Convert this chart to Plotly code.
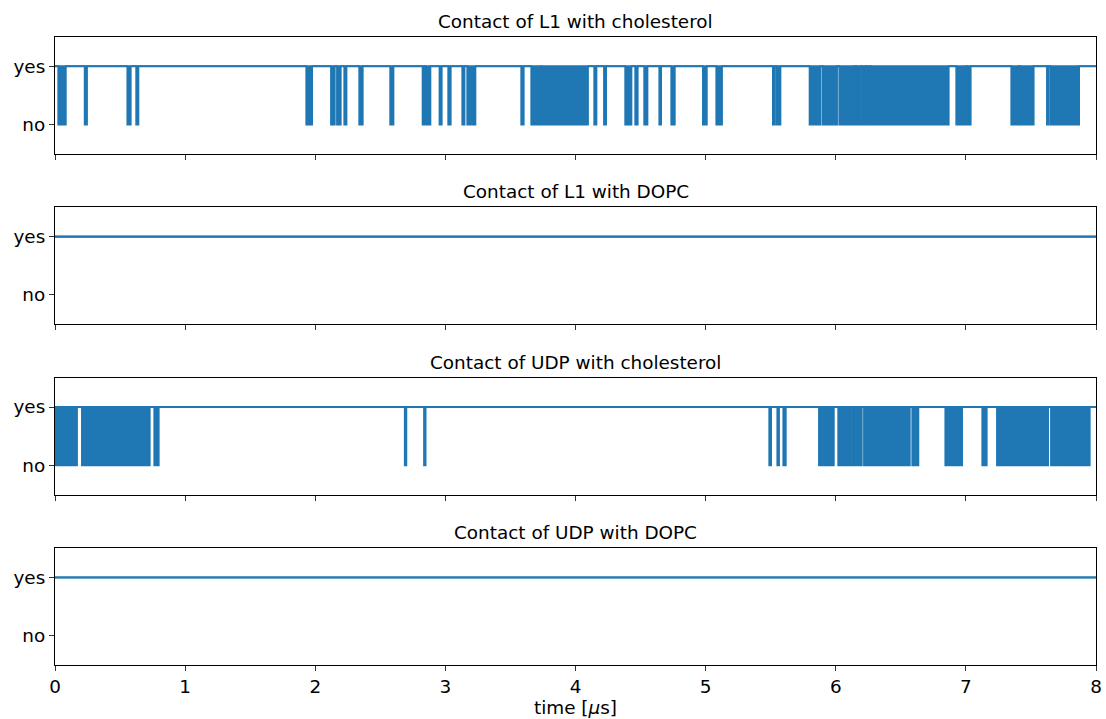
import plotly.graph_objects as go
from plotly.subplots import make_subplots

# ---- data: time intervals (µs) where contact is "no" ----
TITLES = ["Contact of L1 with cholesterol", "Contact of L1 with DOPC",
          "Contact of UDP with cholesterol", "Contact of UDP with DOPC"]
T_END = 8.0
YTICK_VALS = [0, 1]
YTICK_TEXT = ["no", "yes"]
XTICK_VALS = [0, 1, 2, 3, 4, 5, 6, 7, 8]

L1_CHOL_NO = [
    (0.025, 0.083), (0.228, 0.246), (0.556, 0.582), (0.624, 0.641),
    (1.931, 1.976), (2.121, 2.150), (2.167, 2.196), (2.223, 2.240),
    (2.338, 2.365), (2.576, 2.601), (2.825, 2.843), (2.848, 2.885),
    (2.955, 2.972), (3.022, 3.041), (3.130, 3.147), (3.168, 3.231),
    (3.583, 3.602), (3.660, 3.733), (3.738, 4.096), (4.144, 4.161),
    (4.219, 4.235), (4.382, 4.430), (4.459, 4.478), (4.528, 4.553),
    (4.644, 4.658), (4.736, 4.763), (4.979, 5.009), (5.082, 5.126),
    (5.517, 5.533), (5.548, 5.575), (5.799, 5.882), (5.899, 6.010),
    (6.027, 6.146), (6.160, 6.192), (6.206, 6.228), (6.240, 6.261),
    (6.273, 6.868), (6.926, 7.001), (7.013, 7.037), (7.349, 7.407),
    (7.418, 7.521), (7.623, 7.634), (7.649, 7.870),
]
L1_DOPC_NO = []
UDP_CHOL_NO = [
    (0.0, 0.169), (0.207, 0.728), (0.763, 0.797), (2.688, 2.700),
    (2.836, 2.848), (5.489, 5.503), (5.551, 5.564), (5.597, 5.616),
    (5.871, 5.985), (6.019, 6.113), (6.127, 6.200), (6.217, 6.569),
    (6.588, 6.635), (6.842, 6.971), (7.126, 7.160), (7.239, 7.632),
    (7.654, 7.727), (7.741, 7.952),
]
UDP_DOPC_NO = []

SERIES = [L1_CHOL_NO, L1_DOPC_NO, UDP_CHOL_NO, UDP_DOPC_NO]

COLOR = "#1f77b4"
FONT = "DejaVu Sans"
FS = 18.4

fig = make_subplots(rows=4, cols=1, shared_xaxes=True,
                    vertical_spacing=0.0855)

for i, intervals in enumerate(SERIES, start=1):
    xs, ys = [0.0], [1]
    for a, b in intervals:
        xs += [a, a, b, b]
        ys += [1, 0, 0, 1]
    xs.append(T_END)
    ys.append(1)
    fig.add_trace(go.Scatter(x=[0.0, T_END], y=[1, 1], mode="lines",
                             line=dict(color=COLOR, width=2.1),
                             showlegend=False, hoverinfo="skip"),
                  row=i, col=1)
    fig.add_trace(go.Scatter(x=xs, y=ys, mode="lines",
                             line=dict(color=COLOR, width=1.8),
                             fill="tonexty", fillcolor=COLOR,
                             showlegend=False, hoverinfo="skip"),
                  row=i, col=1)

axis_common = dict(showline=True, mirror=True, linecolor="black",
                   linewidth=1.1, ticks="outside", ticklen=5,
                   tickwidth=1.1, tickcolor="#333333", showgrid=False,
                   zeroline=False, automargin=False,
                   tickfont=dict(family=FONT, size=FS, color="black"))

for i in range(1, 5):
    fig.update_xaxes(range=[0, T_END], tickvals=XTICK_VALS, row=i, col=1,
                     **axis_common)
    fig.update_yaxes(range=[-0.5, 1.5], tickvals=YTICK_VALS,
                     ticktext=YTICK_TEXT, row=i, col=1, **axis_common)

fig.update_xaxes(title=dict(text="time [<i>μ</i>s]",
                            font=dict(family=FONT, size=FS, color="black"),
                            standoff=2), row=4, col=1)

for i, t in enumerate(TITLES, start=1):
    yax = fig.layout["yaxis" if i == 1 else f"yaxis{i}"]
    top = yax.domain[1]
    fig.add_annotation(text=t, x=0.5, xref="paper", y=top, yref="paper",
                       xanchor="center", yanchor="bottom", yshift=3,
                       showarrow=False,
                       font=dict(family=FONT, size=FS, color="black"))

fig.update_layout(width=1106, height=719, plot_bgcolor="white",
                  paper_bgcolor="white",
                  margin=dict(l=55, r=10, t=37, b=54, autoexpand=False),
                  font=dict(family=FONT, size=FS, color="black"),
                  hovermode=False)

fig.write_html("out.html")
